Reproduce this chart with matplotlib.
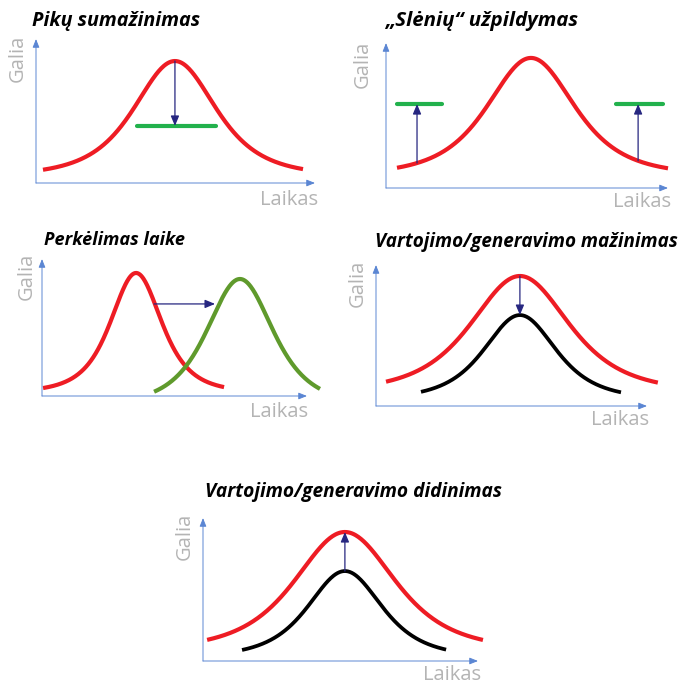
import numpy as np
import matplotlib
import matplotlib.pyplot as plt

matplotlib.use('agg')
plt.rcParams['font.family'] = ['Open Sans', 'DejaVu Sans']

W, H = 684, 685  # paveikslo dydis pikseliais

# --- duomenys (ašių vienetai 0..100), kreivė: centras, piko aukštis, asimptotė, plotis ---
titles = ['Pikų sumažinimas', '„Slėnių“ užpildymas', 'Perkėlimas laike',
          'Vartojimo/generavimo mažinimas', 'Vartojimo/generavimo didinimas']
x_label = 'Laikas'
y_label = 'Galia'

# 1. piko sumažinimas
p1_red = [49.8, 84.7, 4.4, 26.9]
p1_red_span = [2.5, 95.7]
p1_green_y = 39.6
p1_green_span = [36.2, 64.5]

# 2. slėnių užpildymas
p2_red = [51.4, 89.7, 8.3, 28.4]
p2_red_span = [3.9, 100.0]
p2_green_y = 57.9
p2_green_left = [3.9, 19.9]
p2_green_right = [81.6, 98.2]
p2_arrow_x = [11.0, 89.4]

# 3. perkėlimas laike
p3_red = [35.5, 89.8, 2.2, 17.7]
p3_red_span = [0.4, 68.7]
p3_green = [74.7, 85.4, -7.3, 23.0]
p3_green_span = [42.3, 104.9]
p3_arrow_x = [42.3, 65.3]
p3_arrow_y = 67.2

# 4. mažinimas
p4_red = [53.1, 92.2, 9.2, 33.2]
p4_red_span = [3.7, 104.0]
p4_black = [53.1, 64.5, 4.3, 24.4]
p4_black_span = [16.6, 90.4]

# 5. didinimas
p5_red = [51.6, 90.2, 6.8, 33.5]
p5_red_span = [1.5, 101.8]
p5_black = [51.6, 62.9, 2.1, 24.7]
p5_black_span = [14.2, 88.4]

# --- išdėstymas pikseliais: kairė, viršus, dešinė, apačia (ašių pradžia) ---
boxes = [(36, 39, 315, 183), (386, 43, 668, 188), (42, 259, 307, 396),
         (376, 265, 647, 406), (203, 518, 478, 661)]
title_pos = [(32, 21), (385, 21), (44, 240), (375, 242), (205, 492)]
title_width = [168, 193, 141, 303, 298]
xlab_pos = [(318, 200), (671, 202), (308, 412), (649, 420), (481, 675)]
ylab_pos = [(18, 58), (363, 64), (27, 276), (358, 283), (185, 536)]

RED = '#ee1c24'
GREEN = '#22b14c'
OLIVE = '#5f9a2c'
NAVY = '#262680'
AXIS = '#5b86d3'
GREY = '#b4b4b4'


def bell(t, params):
    center, peak, base, width = params
    return base + (peak - base) / (1 + ((t - center) / width) ** 2) ** 2


def curve(ax, params, span, color, lw=3.0):
    t = np.linspace(span[0], span[1], 300)
    ax.plot(t, bell(t, params), color=color, lw=lw, solid_capstyle='butt', clip_on=False)


def hline(ax, y, span):
    ax.plot(span, [y, y], color=GREEN, lw=3.0, solid_capstyle='round', clip_on=False)


def arrow(ax, start, end):
    ax.annotate('', xy=end, xytext=start,
                arrowprops=dict(arrowstyle='-|>,head_length=0.6,head_width=0.25',
                                color=NAVY, lw=0.9, shrinkA=0, shrinkB=0))


fig = plt.figure(figsize=(W / 100, H / 100), dpi=100)
renderer = fig.canvas.get_renderer()


def make_panel(i):
    left, top, right, bottom = boxes[i]
    ax = fig.add_axes([left / W, 1 - bottom / H, (right - left) / W, (bottom - top) / H])
    ax.set_xlim(0, 100)
    ax.set_ylim(0, 100)
    ax.axis('off')
    # ašys su rodyklėmis
    for end in [(1, 0), (0, 1)]:
        ax.annotate('', xy=end, xytext=(0, 0), xycoords='axes fraction',
                    arrowprops=dict(arrowstyle='-|>,head_length=0.5,head_width=0.2',
                                    color=AXIS, lw=0.7, shrinkA=0, shrinkB=0))
    tx, ty = title_pos[i]
    t = fig.text(tx / W, 1 - ty / H, titles[i], fontsize=12.5, fontweight='bold',
                 fontstyle='italic', ha='left', va='center')
    # pavadinimo plotis kaip originale
    w = t.get_window_extent(renderer).width
    t.set_fontsize(12.5 * title_width[i] / w)
    lx, ly = xlab_pos[i]
    fig.text(lx / W, 1 - ly / H, x_label, fontsize=14.5, color=GREY, ha='right', va='center')
    gx, gy = ylab_pos[i]
    fig.text(gx / W, 1 - gy / H, y_label, fontsize=14.5, color=GREY, rotation=90,
             ha='center', va='center')
    return ax


# 1
ax = make_panel(0)
curve(ax, p1_red, p1_red_span, RED)
hline(ax, p1_green_y, p1_green_span)
arrow(ax, (p1_red[0], p1_red[1]), (p1_red[0], p1_green_y))

# 2
ax = make_panel(1)
curve(ax, p2_red, p2_red_span, RED)
hline(ax, p2_green_y, p2_green_left)
hline(ax, p2_green_y, p2_green_right)
for x in p2_arrow_x:
    arrow(ax, (x, bell(x, p2_red)), (x, p2_green_y))

# 3
ax = make_panel(2)
curve(ax, p3_red, p3_red_span, RED)
curve(ax, p3_green, p3_green_span, OLIVE)
arrow(ax, (p3_arrow_x[0], p3_arrow_y), (p3_arrow_x[1], p3_arrow_y))

# 4
ax = make_panel(3)
curve(ax, p4_red, p4_red_span, RED)
curve(ax, p4_black, p4_black_span, 'black', lw=2.7)
arrow(ax, (p4_red[0], p4_red[1]), (p4_black[0], p4_black[1]))

# 5
ax = make_panel(4)
curve(ax, p5_red, p5_red_span, RED)
curve(ax, p5_black, p5_black_span, 'black', lw=2.7)
arrow(ax, (p5_black[0], p5_black[1]), (p5_red[0], p5_red[1]))

fig.savefig('out.png', dpi=100, facecolor='white')
